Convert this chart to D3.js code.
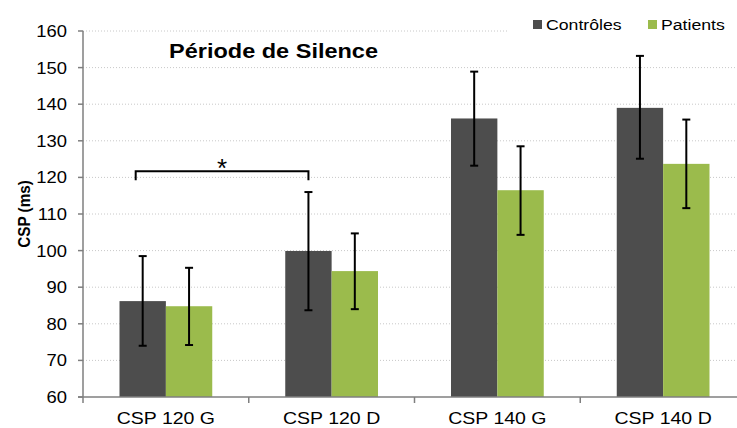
<!DOCTYPE html>
<html><head><meta charset="utf-8">
<script src="https://cdn.jsdelivr.net/npm/d3@7"></script>
<style>body{margin:0;background:#fff}svg{display:block;font-family:"Liberation Sans",Arial,sans-serif}</style>
</head><body><svg id="c" width="737" height="428"></svg>
<script>
const categories = ["CSP 120 G","CSP 120 D","CSP 140 G","CSP 140 D"];
const seriesNames = ["Contrôles","Patients"];
const controles = [86.2, 99.9, 136.1, 139.0];
const controlesErrLow = [74.0, 83.7, 123.2, 125.1];
const controlesErrHigh = [98.5, 116.0, 148.9, 153.2];
const patients = [84.8, 94.4, 116.5, 123.7];
const patientsErrLow = [74.2, 84.0, 104.3, 111.6];
const patientsErrHigh = [95.3, 104.7, 128.5, 135.8];
const yTicks = [60,70,80,90,100,110,120,130,140,150,160];
const colors = ["#4d4d4d","#9bbb4c"];
const sig = {from:"CSP 120 G", to:"CSP 120 D", level:121.7, drop:119.2, label:"*"};

const svg = d3.select("#c");
const L=83, R=746, T=31, B=397;
const y = d3.scaleLinear().domain([60,160]).range([B,T]);
const x0 = d3.scaleBand().domain(categories).range([L,R]).padding(0);
const x1 = d3.scaleBand().domain(seriesNames).range([36.5, x0.bandwidth()-36.5]).padding(0);
const SX = 1.18;

function stext(g, x, yy, txt, opts){
  const t = g.append("text").attr("transform",`translate(${x},${yy}) scale(${opts.sx||SX},1)`)
    .attr("font-size",opts.size).attr("text-anchor",opts.anchor||"start").attr("fill",opts.fill||"#000")
    .text(txt);
  if(opts.weight) t.attr("font-weight",opts.weight);
  return t;
}

// gridlines
svg.append("g").selectAll("line").data(yTicks.filter(d=>d>60)).join("line")
  .attr("x1",L).attr("x2",d=>d===160?508:737).attr("y1",d=>y(d)).attr("y2",d=>y(d))
  .attr("stroke","#c8c8c8").attr("stroke-width",1).attr("stroke-dasharray","1,2");

// bars
const data = categories.map((c,i)=>({cat:c, vals:[
  {s:seriesNames[0], v:controles[i], lo:controlesErrLow[i], hi:controlesErrHigh[i], col:colors[0]},
  {s:seriesNames[1], v:patients[i], lo:patientsErrLow[i], hi:patientsErrHigh[i], col:colors[1]}]}));
const grp = svg.append("g").selectAll("g").data(data).join("g").attr("transform",d=>`translate(${x0(d.cat)},0)`);
grp.selectAll("rect").data(d=>d.vals).join("rect")
  .attr("x",d=>x1(d.s)).attr("width",x1.bandwidth()).attr("y",d=>y(d.v)).attr("height",d=>B-y(d.v))
  .attr("fill",d=>d.col);
// error bars
const eb = grp.selectAll("g.eb").data(d=>d.vals).join("g").attr("class","eb")
  .attr("transform",d=>`translate(${x1(d.s)+x1.bandwidth()/2},0)`);
eb.append("line").attr("y1",d=>y(d.lo)).attr("y2",d=>y(d.hi)).attr("stroke","#000").attr("stroke-width",2);
eb.append("line").attr("x1",-4).attr("x2",4).attr("y1",d=>y(d.hi)).attr("y2",d=>y(d.hi)).attr("stroke","#000").attr("stroke-width",2);
eb.append("line").attr("x1",-4).attr("x2",4).attr("y1",d=>y(d.lo)).attr("y2",d=>y(d.lo)).attr("stroke","#000").attr("stroke-width",2);

// axes
const ax = svg.append("g");
ax.append("line").attr("x1",L).attr("x2",L).attr("y1",T).attr("y2",B).attr("stroke","#7f7f7f").attr("stroke-width",1.5);
ax.append("line").attr("x1",L-5).attr("x2",737).attr("y1",B).attr("y2",B).attr("stroke","#7f7f7f").attr("stroke-width",1.5);
ax.selectAll("line.yt").data(yTicks).join("line").attr("class","yt")
  .attr("x1",L-5).attr("x2",L).attr("y1",d=>y(d)).attr("y2",d=>y(d)).attr("stroke","#7f7f7f").attr("stroke-width",1.5);
yTicks.forEach(d=>stext(ax, 67, y(d)+6, String(d), {size:16, anchor:"end", sx:1.15}));
const bounds = categories.map(c=>x0(c)).concat([R]);
ax.selectAll("line.xt").data(bounds).join("line").attr("class","xt")
  .attr("x1",d=>d).attr("x2",d=>d).attr("y1",B).attr("y2",B+6).attr("stroke","#7f7f7f").attr("stroke-width",1.5);
categories.forEach(c=>stext(ax, x0(c)+x0.bandwidth()/2, 424, c, {size:16, anchor:"middle", sx:1.22}));

// y label
svg.append("text").attr("transform","translate(30,214) rotate(-90) scale(0.9,1)").attr("text-anchor","middle")
  .attr("font-size",17).attr("font-weight","bold").text("CSP (ms)");

// title
stext(svg, 169, 58, "Période de Silence", {size:21, weight:"bold", sx:1.12});

// legend
const lg = svg.append("g");
const lgX = [533, 648];
seriesNames.forEach((s,i)=>{
  lg.append("rect").attr("x",lgX[i]).attr("y",20).attr("width",9).attr("height",9).attr("fill",colors[i]);
  stext(lg, lgX[i]+13, 30, s, {size:15.5, sx:1.14});
});

// significance bracket
const bx1 = x0(sig.from)+x1(seriesNames[0])+x1.bandwidth()/2-7;
const bx2 = x0(sig.to)+x1(seriesNames[0])+x1.bandwidth()/2;
svg.append("path").attr("d",`M${bx1},${y(sig.drop)}V${y(sig.level)}H${bx2}V${y(sig.drop)}`)
  .attr("fill","none").attr("stroke","#000").attr("stroke-width",2);
svg.append("text").attr("x",(bx1+bx2)/2).attr("y",y(sig.level)+5.5).attr("text-anchor","middle")
  .attr("font-size",26).text(sig.label);
</script></body></html>
